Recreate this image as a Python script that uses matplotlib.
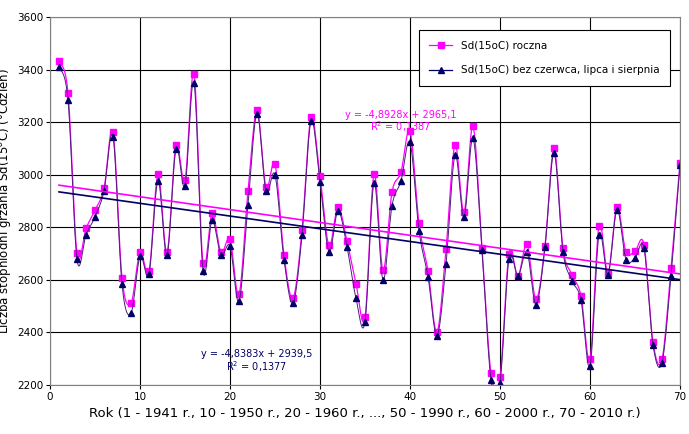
import numpy as np
import matplotlib
matplotlib.use('Agg')
import matplotlib.pyplot as plt
from matplotlib.lines import Line2D

years = np.arange(1, 71)
sd_roczna = [3431, 3311, 2701, 2796, 2865, 2948, 3161, 2608, 2511, 2705,
             2633, 3001, 2705, 3113, 2979, 3384, 2663, 2853, 2705, 2754,
             2545, 2937, 3245, 2952, 3040, 2694, 2530, 2788, 3218, 2994,
             2731, 2877, 2747, 2586, 2457, 3001, 2636, 2933, 3010, 3166,
             2815, 2634, 2402, 2716, 3113, 2857, 3184, 2720, 2245, 2229,
             2700, 2615, 2735, 2526, 2730, 3100, 2720, 2619, 2539, 2299,
             2806, 2627, 2876, 2706, 2709, 2733, 2362, 2298, 2644, 3046]
sd_bez_lata = [3411, 3284, 2678, 2772, 2840, 2938, 3145, 2583, 2473, 2689,
               2622, 2977, 2694, 3098, 2957, 3350, 2634, 2826, 2694, 2728,
               2518, 2886, 3232, 2937, 2999, 2676, 2511, 2769, 3204, 2972,
               2706, 2862, 2726, 2530, 2440, 2968, 2600, 2882, 2977, 3123,
               2787, 2612, 2388, 2660, 3074, 2838, 3139, 2712, 2219, 2209,
               2680, 2615, 2705, 2506, 2724, 3082, 2707, 2597, 2523, 2272,
               2771, 2619, 2866, 2677, 2683, 2720, 2352, 2285, 2615, 3037]
trend1 = (-4.8928, 2965.1)
trend2 = (-4.8383, 2939.5)


def smooth(x, y, n=12):
    # Catmull-Rom like Excel's smoothed line
    x = np.asarray(x, float); y = np.asarray(y, float)
    px = np.concatenate([[x[0]], x, [x[-1]]])
    py = np.concatenate([[y[0]], y, [y[-1]]])
    xs, ys = [], []
    t = np.linspace(0, 1, n, endpoint=False)
    for i in range(1, len(px) - 2):
        for p, out in ((px, xs), (py, ys)):
            p0, p1, p2, p3 = p[i - 1], p[i], p[i + 1], p[i + 2]
            out.extend(0.5 * (2 * p1 + (-p0 + p2) * t + (2 * p0 - 5 * p1 + 4 * p2 - p3) * t ** 2
                              + (-p0 + 3 * p1 - 3 * p2 + p3) * t ** 3))
    xs.append(x[-1]); ys.append(y[-1])
    return xs, ys


fig = plt.figure(figsize=(6.89, 4.34), dpi=100)
ax = fig.add_axes([50 / 689, 1 - 385 / 434, 630 / 689, 368 / 434])

pink = '#ff00ff'
navy = '#000066'
sx, sy = smooth(years, sd_roczna)
ax.plot(sx, sy, color=pink, lw=0.9)
ax.plot(years, sd_roczna, 's', color=pink, ms=4.5)
sx, sy = smooth(years, sd_bez_lata)
ax.plot(sx, sy, color='#4b1f7a', lw=0.7)
ax.plot(years, sd_bez_lata, '^', color=navy, ms=4)

xt = np.array([1, 70])
ax.plot(xt, trend1[0] * xt + trend1[1], color=pink, lw=1.2)
ax.plot(xt, trend2[0] * xt + trend2[1], color=navy, lw=1.2)

ax.text(39, 3215, 'y = -4,8928x + 2965,1', color=pink, fontsize=7, ha='center')
ax.text(39, 3165, 'R$^2$ = 0,1387', color=pink, fontsize=7, ha='center')
ax.text(23, 2305, 'y = -4,8383x + 2939,5', color=navy, fontsize=7, ha='center')
ax.text(23, 2255, 'R$^2$ = 0,1377', color=navy, fontsize=7, ha='center')

ax.set_xlim(0, 70)
ax.set_ylim(2200, 3600)
ax.set_xticks(range(0, 71, 10))
ax.set_yticks(range(2200, 3601, 200))
ax.grid(True, color='black', lw=0.8)
ax.tick_params(labelsize=7.5, length=3, pad=2)
for s in ax.spines.values():
    s.set_color('#808080')
ax.set_ylabel('Liczba stopniodni grzania Sd(15$^o$C) (°Cdzien)', fontsize=8.5, labelpad=3)
ax.set_xlabel('Rok (1 - 1941 r., 10 - 1950 r., 20 - 1960 r., ..., 50 - 1990 r., 60 - 2000 r., 70 - 2010 r.)',
              fontsize=9.5)

labels = ['Sd(15oC) roczna', 'Sd(15oC) bez czerwca, lipca i sierpnia']
handles = [Line2D([], [], color=pink, marker='s', ms=4.5, lw=0.9),
           Line2D([], [], color=navy, marker='^', ms=4, lw=0.9)]
leg = ax.legend(handles, labels, loc='upper right', bbox_to_anchor=(0.992, 0.978), fontsize=7.5,
                fancybox=False, framealpha=1, edgecolor='black', borderpad=1.0, labelspacing=1.4,
                handlelength=2.2)
leg.get_frame().set_linewidth(0.8)

fig.savefig('out.png', dpi=100)
